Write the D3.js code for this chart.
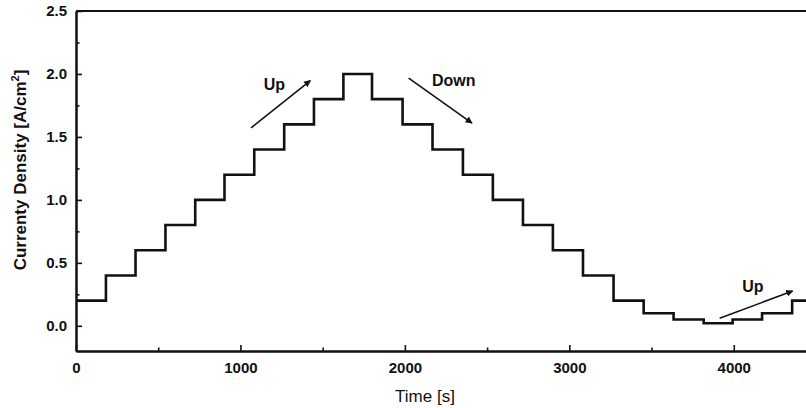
<!DOCTYPE html>
<html>
<head>
<meta charset="utf-8">
<script src="https://cdn.jsdelivr.net/npm/d3@7"></script>
<style>
  body { margin: 0; background: #fff; }
  svg { display: block; overflow: hidden; }
  text { font-family: Arial, "Liberation Sans", sans-serif; fill: #111; }
</style>
</head>
<body>
<div id="chart"></div>
<script>
// times [s] where the current density switches to the next level
const stepTimes = [182, 362, 544, 725, 903, 1084, 1266, 1447, 1626, 1800, 1986, 2168,
                   2353, 2535, 2718, 2900, 3083, 3269, 3452, 3634, 3817, 3993, 4172, 4355];
// current density levels [A/cm2], first one holds from t = 0
const levels = [0.2, 0.4, 0.6, 0.8, 1.0, 1.2, 1.4, 1.6, 1.8, 2.0, 1.8, 1.6, 1.4,
                1.2, 1.0, 0.8, 0.6, 0.4, 0.2, 0.1, 0.05, 0.02, 0.05, 0.1, 0.2];
const timeEnd = 4500;

const xTicks = [0, 1000, 2000, 3000, 4000];
const xMinor = [500, 1500, 2500, 3500, 4500];
const yTicks = [0.0, 0.5, 1.0, 1.5, 2.0, 2.5];
const yMinor = [0.25, 0.75, 1.25, 1.75, 2.25];

// annotation arrows: tail (t0,v0) -> head (t1,v1), label at (tl,vl)
const arrowLabels = ["Up", "Down", "Up"];
const arrowFrom = [[1064, 1.571], [2023, 1.967], [3914, 0.06]];
const arrowTo = [[1425, 1.948], [2408, 1.610], [4358, 0.276]];
const labelAt = [[1206, 1.874], [2297, 1.904], [4116, 0.270]];

const W = 806, H = 408;
const margin = {top: 11, left: 76, bottom: 57};

const svg = d3.select("#chart").append("svg")
    .attr("width", W)
    .attr("height", H);

const x = d3.scaleLinear().domain([0, timeEnd]).range([margin.left, margin.left + 740]);
const y = d3.scaleLinear().domain([-0.2, 2.5]).range([H - margin.bottom, margin.top]);

// build step points
let pts = [[0, levels[0]]];
stepTimes.forEach((t, i) => pts.push([t, levels[i + 1]]));
pts.push([timeEnd, levels[levels.length - 1]]);

const line = d3.line()
    .x(d => x(d[0]))
    .y(d => y(d[1]))
    .curve(d3.curveStepAfter);

svg.append("path")
    .datum(pts)
    .attr("d", line)
    .attr("fill", "none")
    .attr("stroke", "#111")
    .attr("stroke-width", 2.6)
    .attr("stroke-linejoin", "miter");

// axes (ticks point inward)
const xAxis = svg.append("g")
    .attr("transform", `translate(0,${y(-0.2)})`)
    .call(d3.axisBottom(x).tickValues(xTicks).tickFormat(d3.format("d")).tickSizeInner(-6).tickSizeOuter(0).tickPadding(11));

const xAxisMinor = svg.append("g")
    .attr("transform", `translate(0,${y(-0.2)})`)
    .call(d3.axisBottom(x).tickValues(xMinor).tickFormat("").tickSizeInner(-3.5).tickSizeOuter(0));

const yAxis = svg.append("g")
    .attr("transform", `translate(${x(0)},0)`)
    .call(d3.axisLeft(y).tickValues(yTicks).tickFormat(d3.format(".1f")).tickSizeInner(-6).tickSizeOuter(0).tickPadding(9));

const yAxisMinor = svg.append("g")
    .attr("transform", `translate(${x(0)},0)`)
    .call(d3.axisLeft(y).tickValues(yMinor).tickFormat("").tickSizeInner(-3.5).tickSizeOuter(0));

[xAxis, xAxisMinor, yAxis, yAxisMinor].forEach(g => {
    g.select(".domain").attr("stroke", "#111").attr("stroke-width", 2);
    g.selectAll(".tick line").attr("stroke", "#111").attr("stroke-width", 1.6);
    g.selectAll(".tick text")
        .style("font-size", "15px")
        .style("font-weight", "bold")
        .attr("fill", "#111");
});

// top frame line
svg.append("line")
    .attr("x1", x(0)).attr("x2", x(timeEnd))
    .attr("y1", y(2.5)).attr("y2", y(2.5))
    .attr("stroke", "#111").attr("stroke-width", 2);

// axis titles
svg.append("text")
    .attr("x", 425)
    .attr("y", 402)
    .attr("text-anchor", "middle")
    .style("font-size", "17px")
    .text("Time [s]");

const yTitle = svg.append("text")
    .attr("transform", `translate(26,${170}) rotate(-90)`)
    .attr("text-anchor", "middle")
    .style("font-size", "17px")
    .style("font-weight", "bold");
yTitle.append("tspan").text("Currenty Density [A/cm");
yTitle.append("tspan").attr("dy", -7).style("font-size", "11px").text("2");
yTitle.append("tspan").attr("dy", 7).text("]");

// arrow markers
svg.append("defs").append("marker")
    .attr("id", "head")
    .attr("viewBox", "0 0 10 10")
    .attr("refX", 9)
    .attr("refY", 5)
    .attr("markerWidth", 7)
    .attr("markerHeight", 7)
    .attr("markerUnits", "userSpaceOnUse")
    .attr("orient", "auto")
    .append("path")
    .attr("d", "M0,0 L10,5 L0,10 Z")
    .attr("fill", "#111");

arrowLabels.forEach((lab, i) => {
    svg.append("line")
        .attr("x1", x(arrowFrom[i][0])).attr("y1", y(arrowFrom[i][1]))
        .attr("x2", x(arrowTo[i][0])).attr("y2", y(arrowTo[i][1]))
        .attr("stroke", "#111")
        .attr("stroke-width", 1.6)
        .attr("marker-end", "url(#head)");
    svg.append("text")
        .attr("x", x(labelAt[i][0]))
        .attr("y", y(labelAt[i][1]))
        .attr("text-anchor", "middle")
        .style("font-size", "16px")
        .style("font-weight", "bold")
        .text(lab);
});
</script>
</body>
</html>
